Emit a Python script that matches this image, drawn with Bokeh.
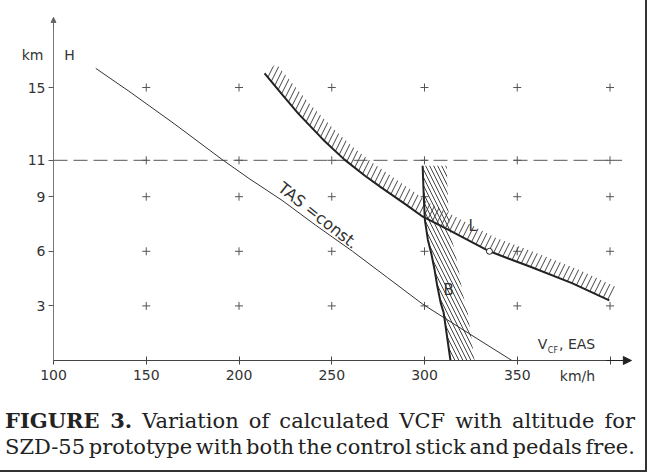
import numpy as np
from bokeh.plotting import figure
from bokeh.layouts import column
from bokeh.models import (Label, FixedTicker, Arrow, NormalHead, Div, Range1d,
                          LinearAxis)
from bokeh.embed import file_html
from bokeh.resources import INLINE

# ---- data ----
tas_v = [122.8, 140.6, 165.2, 190.8, 205.4, 223.2, 241.1, 261.2, 280.1, 299.1, 323.7, 347.1]
tas_h = [16.05, 14.8, 13.0, 11.05, 10.0, 8.8, 7.45, 6.0, 4.55, 3.09, 1.5, 0.0]

l_v = [213.8, 223.2, 232.1, 245.5, 256.7, 267.9, 276.8, 290.2, 299.1, 312.5, 335.0, 357.1, 379.5, 399.6]
l_h = [15.78, 14.62, 13.55, 12.12, 11.05, 10.15, 9.5, 8.55, 7.9, 7.2, 6.0, 5.15, 4.25, 3.3]

b_v = [299.0, 299.6, 300.2, 301.8, 303.6, 305.4, 306.9, 308.7, 310.3, 312.1, 314.0]
b_h = [10.7, 9.0, 7.73, 6.64, 5.91, 5.0, 4.09, 3.18, 2.64, 1.36, 0.0]

point_v = [335.0]
point_h = [6.0]

grid_v = [150, 200, 250, 300, 350, 400]
grid_h = [3, 6, 9, 11, 15]
x_ticks = [100, 150, 200, 250, 300, 350, 400]
x_tick_labels = {100: "100", 150: "150", 200: "200", 250: "250", 300: "300", 350: "350", 400: ""}
y_ticks = [3, 6, 9, 11, 15]
tropopause = 11

# ---- layout ----
W, H = 635, 400
SX, SY = 1.855, 18.2            # px per km/h, px per km
ORIG_X, ORIG_Y = 53, 360        # canvas position of (100 km/h, 0 km)
X0 = 100 - ORIG_X / SX
X1 = 100 + (W - ORIG_X) / SX
Y1 = ORIG_Y / SY
Y0 = -(H - ORIG_Y) / SY
X_AXIS_END = 411.5
Y_AXIS_END = 18.85

p = figure(width=W, height=H, x_range=Range1d(X0, X1), y_range=Range1d(Y0, Y1),
           output_backend="svg", toolbar_location=None,
           x_axis_location=None, y_axis_location=None,
           min_border_left=0, min_border_right=0, min_border_top=0, min_border_bottom=0)
p.grid.visible = False
p.outline_line_color = None
p.background_fill_color = "white"
p.border_fill_color = "white"

ax = LinearAxis(fixed_location=0, bounds=(100, X_AXIS_END))
ax.ticker = FixedTicker(ticks=x_ticks)
ax.major_label_overrides = x_tick_labels
ax.major_tick_in = 4
ax.major_tick_out = 4
ax.minor_tick_line_color = None
ax.axis_line_color = "#444"
ax.axis_line_width = 1.2
ax.major_tick_line_color = "#444"
ax.major_label_text_font = "DejaVu Sans"
ax.major_label_text_font_size = "14px"
ax.major_label_text_color = "#333"
ax.major_label_standoff = 5
p.add_layout(ax, "below")

ay = LinearAxis(fixed_location=100, bounds=(0, Y_AXIS_END))
ay.ticker = FixedTicker(ticks=y_ticks)
ay.major_tick_in = 0
ay.major_tick_out = 5
ay.minor_tick_line_color = None
ay.axis_line_color = "#777"
ay.major_tick_line_color = "#555"
ay.major_label_text_font = "DejaVu Sans"
ay.major_label_text_font_size = "14px"
ay.major_label_text_color = "#333"
ay.major_label_standoff = 3
p.add_layout(ay, "left")

# grid crosses
gv, gh = np.meshgrid(grid_v, grid_h)
p.scatter(gv.ravel(), gh.ravel(), marker="cross", size=8, line_color="#555", line_width=1)

# tropopause line
p.line([100, X_AXIS_END - 5], [tropopause, tropopause], line_dash="14 6",
       line_color="#555", line_width=1)


def offset_curve(vs, hs, d_px):
    x = np.asarray(vs) * SX
    y = np.asarray(hs) * SY
    dx = np.gradient(x)
    dy = np.gradient(y)
    n = np.hypot(dx, dy)
    xo = x - dy / n * d_px
    yo = y + dx / n * d_px
    return xo / SX, yo / SY


# hatched band above L
lo_v, lo_h = offset_curve(l_v, l_h, 15)
p.patch(list(l_v) + list(lo_v[::-1]), list(l_h) + list(lo_h[::-1]),
        fill_alpha=0, line_color=None, hatch_pattern="/", hatch_color="#444",
        hatch_weight=1, hatch_scale=11)

# hatched band right of B
bo_v = np.asarray(b_v) + 13
p.patch(list(b_v) + list(bo_v[::-1]), list(b_h) + list(b_h[::-1]),
        fill_alpha=0, line_color=None, hatch_pattern="\\", hatch_color="#444",
        hatch_weight=1, hatch_scale=8)

# curves
p.line(tas_v, tas_h, line_color="#333", line_width=1)
p.line(l_v, l_h, line_color="#222", line_width=2)
p.line(b_v, b_h, line_color="#222", line_width=2)
p.scatter(point_v, point_h, marker="circle", size=6, fill_color="white",
          line_color="#222", line_width=1)

# arrows at the ends of the axes
p.add_layout(Arrow(end=NormalHead(size=8, fill_color="#222", line_color="#222"),
                   x_start=398, y_start=0, x_end=X_AXIS_END, y_end=0,
                   line_color="#222", line_width=1.2))
p.add_layout(Arrow(end=NormalHead(size=5, fill_color="#666", line_color="#666"),
                   x_start=100, y_start=Y_AXIS_END - 0.6, x_end=100, y_end=Y_AXIS_END,
                   line_color="#666", line_width=1))

lab = dict(text_font="DejaVu Sans", text_color="#333")
p.add_layout(Label(x=88.7, y=16.76, text="km", text_align="center", text_baseline="middle",
                   text_font_size="14px", **lab))
p.add_layout(Label(x=108.6, y=16.76, text="H", text_align="center", text_baseline="middle",
                   text_font_size="14px", **lab))
p.add_layout(Label(x=219.0, y=9.2, text="TAS =const.", angle=-0.667, text_align="left",
                   text_baseline="bottom", text_font_size="16px", **lab))
p.add_layout(Label(x=326, y=7.4, text="L", text_align="center", text_baseline="middle",
                   text_font_size="15px", **lab))
p.add_layout(Label(x=313, y=3.9, text="B", text_align="center", text_baseline="middle",
                   text_font_size="15px", **lab))
p.add_layout(Label(x=361, y=0.45, text="V", text_align="left", text_baseline="bottom",
                   text_font_size="14px", **lab))
p.add_layout(Label(x=366.5, y=0.3, text="CF", text_align="left", text_baseline="bottom",
                   text_font_size="8px", **lab))
p.add_layout(Label(x=372.5, y=0.45, text=", EAS", text_align="left", text_baseline="bottom",
                   text_font_size="14px", **lab))
p.add_layout(Label(x=382.5, y=-0.85, text="km/h", text_align="center", text_baseline="middle",
                   text_font_size="14px", **lab))

cap = Div(text="<b>FIGURE 3.</b> Variation of calculated VCF with altitude for<br>"
               "SZD-55 prototype with both the control stick and pedals free.",
          width=W, height=60,
          styles={"font-family": "DejaVu Serif", "font-size": "21px", "line-height": "26px",
                  "word-spacing": "-3px",
                  "text-align": "justify", "text-align-last": "justify", "color": "#222",
                  "padding-top": "3px", "box-sizing": "border-box"})

layout = column(p, cap, spacing=0, styles={"outline": "2px solid #333"})

open("out.html", "w").write(file_html(layout, INLINE))
